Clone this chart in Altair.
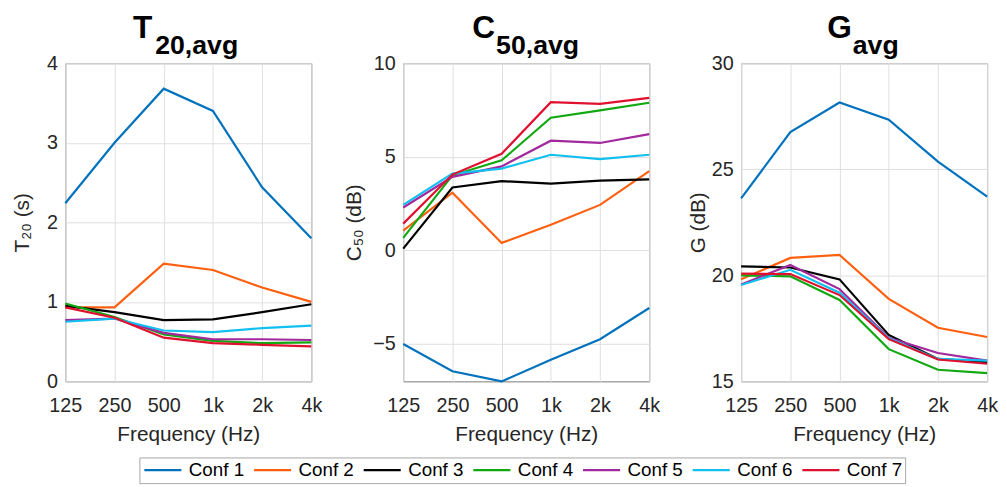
import altair as alt
import pandas as pd

FONT = "Liberation Sans"

freqs = ["125", "250", "500", "1k", "2k", "4k"]
confs = ["Conf 1", "Conf 2", "Conf 3", "Conf 4", "Conf 5", "Conf 6", "Conf 7"]
colors = ["#0072BD", "#FF6010", "#000000", "#12A812", "#A2289E", "#12C0F0", "#E0102F"]

# T20,avg (s)
t20_c1 = [2.24, 3.00, 3.68, 3.40, 2.44, 1.80]
t20_c2 = [0.93, 0.93, 1.48, 1.40, 1.18, 1.00]
t20_c3 = [0.95, 0.87, 0.77, 0.78, 0.87, 0.97]
t20_c4 = [0.98, 0.81, 0.59, 0.51, 0.48, 0.49]
t20_c5 = [0.77, 0.79, 0.61, 0.53, 0.53, 0.52]
t20_c6 = [0.75, 0.79, 0.64, 0.62, 0.67, 0.70]
t20_c7 = [0.93, 0.80, 0.55, 0.48, 0.46, 0.44]

# C50,avg (dB)
c50_c1 = [-5.00, -6.46, -7.00, -5.85, -4.75, -3.08]
c50_c2 = [1.06, 3.08, 0.40, 1.37, 2.43, 4.23]
c50_c3 = [0.09, 3.36, 3.70, 3.57, 3.73, 3.79]
c50_c4 = [0.67, 4.01, 4.81, 7.09, 7.48, 7.89]
c50_c5 = [2.29, 3.93, 4.49, 5.86, 5.74, 6.21]
c50_c6 = [2.43, 4.10, 4.37, 5.11, 4.88, 5.11]
c50_c7 = [1.43, 4.05, 5.16, 7.92, 7.83, 8.15]

# G,avg (dB)
g_c1 = [23.63, 26.75, 28.15, 27.34, 25.36, 23.71]
g_c2 = [19.81, 20.82, 20.96, 18.89, 17.53, 17.09]
g_c3 = [20.42, 20.37, 19.81, 17.19, 16.06, 15.90]
g_c4 = [20.00, 19.95, 18.84, 16.52, 15.55, 15.39]
g_c5 = [19.57, 20.49, 19.35, 17.06, 16.34, 15.98]
g_c6 = [19.54, 20.26, 19.18, 17.03, 16.06, 15.98]
g_c7 = [20.08, 20.06, 19.07, 16.99, 16.03, 15.83]


def long_df(series):
    rows = []
    for conf, vals in zip(confs, series):
        for f, v in zip(freqs, vals):
            rows.append({"freq": f, "conf": conf, "value": v})
    return pd.DataFrame(rows)


df_t20 = long_df([t20_c1, t20_c2, t20_c3, t20_c4, t20_c5, t20_c6, t20_c7])
df_c50 = long_df([c50_c1, c50_c2, c50_c3, c50_c4, c50_c5, c50_c6, c50_c7])
df_g = long_df([g_c1, g_c2, g_c3, g_c4, g_c5, g_c6, g_c7])

W, H = 249, 322


def panel(df, ytitle, domain, ticks, main, sub, main_x, sub_x, title_pad, legend):
    color_kwargs = dict(scale=alt.Scale(domain=confs, range=colors))
    if legend:
        color_kwargs["legend"] = alt.Legend(
            title=None, orient="none", legendX=75, legendY=399,
            direction="horizontal", symbolType="M-1,0H4",
            symbolSize=225, symbolStrokeWidth=2.2,
            labelFont=FONT, labelFontSize=19, labelColor="#000000",
            labelOffset=28, columnPadding=5, padding=3,
            strokeColor="#a6a6a6", fillColor="#ffffff",
        )
    else:
        color_kwargs["legend"] = None
    lines = alt.Chart(df).mark_line(strokeWidth=2.2).encode(
        x=alt.X("freq:N", sort=freqs,
                scale=alt.Scale(type="point", padding=0),
                axis=alt.Axis(title="Frequency (Hz)", labelAngle=0, grid=True,
                              ticks=False, domain=False, labelPadding=14,
                              titlePadding=9)),
        y=alt.Y("value:Q",
                scale=alt.Scale(domain=domain, nice=False, zero=False),
                axis=alt.Axis(title=ytitle, values=ticks, grid=True,
                              ticks=False, domain=False, labelPadding=8,
                              titlePadding=title_pad)),
        color=alt.Color("conf:N", **color_kwargs),
    )
    tdf = pd.DataFrame({"m": [main], "s": [sub]})
    main_t = alt.Chart(tdf).mark_text(
        font=FONT, fontSize=32, fontWeight="bold", align="right",
        baseline="alphabetic", color="#000000",
    ).encode(text="m:N", x=alt.value(main_x), y=alt.value(-26))
    sub_t = alt.Chart(tdf).mark_text(
        font=FONT, fontSize=27, fontWeight="bold", align="left",
        baseline="alphabetic", color="#000000",
    ).encode(text="s:N", x=alt.value(sub_x), y=alt.value(-9))
    return alt.layer(lines, main_t, sub_t).properties(width=W, height=H)


p1 = panel(df_t20, "T₂₀ (s)", [0, 4], [0, 1, 2, 3, 4], "T", "20,avg", 88, 91, 14, True)
p2 = panel(df_c50, "C₅₀ (dB)", [-7, 10], [-5, 0, 5, 10], "C", "50,avg", 93, 94, 8, False)
p3 = panel(df_g, "G (dB)", [15, 30], [15, 20, 25, 30], "G", "avg", 112, 113, 3, False)

left_pair = alt.hconcat(p1, p2, spacing=20)

chart = alt.hconcat(left_pair, p3, spacing=26).properties(
    padding={"left": 3, "top": 0, "right": 0, "bottom": 0}
).configure_view(
    stroke="#7a7a7a", strokeWidth=1
).configure_axis(
    labelFont=FONT, titleFont=FONT, labelFontSize=20, titleFontSize=21,
    labelColor="#262626", titleColor="#262626", titleFontWeight="normal",
    gridColor="#dedede", gridWidth=1,
)

chart.save("out.html", embed_options={"renderer": "svg", "actions": False})
